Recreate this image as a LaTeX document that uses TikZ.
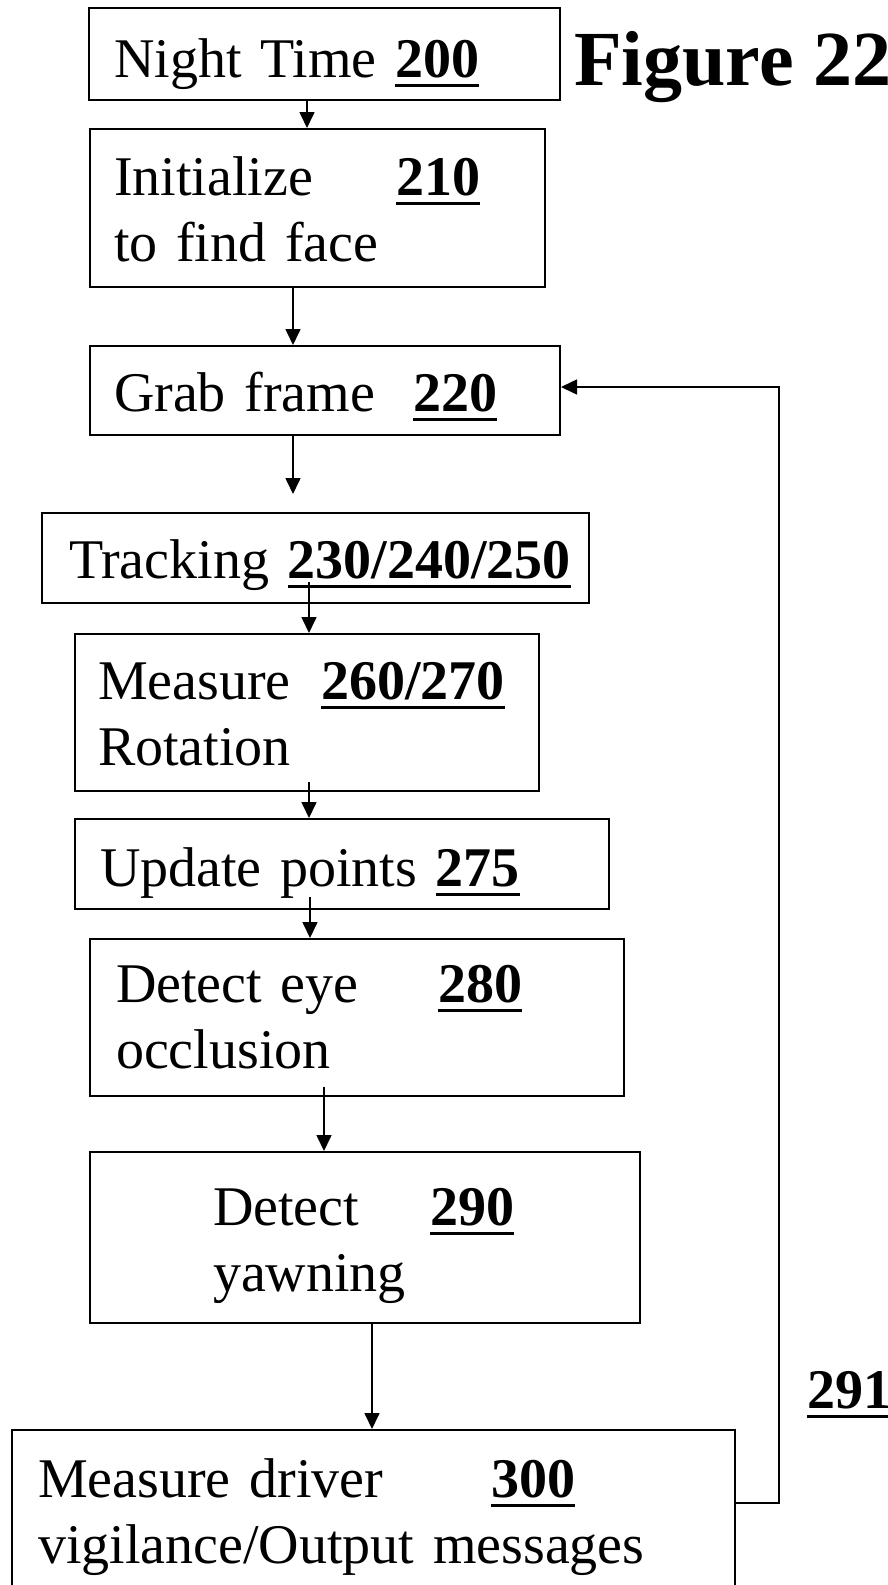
\documentclass[tikz,border=0pt]{standalone}
\usepackage{fontspec}
\setmainfont{Liberation Serif}
\usetikzlibrary{arrows.meta}

\newcommand{\refno}[1]{\setbox0\hbox{\textbf{#1}}\rlap{\rule[-10pt]{\wd0}{3pt}}\box0}

\begin{document}
\begin{tikzpicture}[x=1pt, y=-1pt, >={Triangle[length=16pt,width=15pt]}, line width=1.6pt,
	stage/.style n args={4}{draw, line width=2pt, anchor=north west, align=left,
		font=\fontsize{56}{66}\selectfont, inner ysep=0pt,
		inner xsep=#1pt, text width=#2pt, text height=#3pt, text depth=#4pt}]
	\useasboundingbox (0,0) rectangle (888,1585);

	% Boxes {n200 ... n300}
	\node [stage={25}{421}{69}{23}]  (n200) at (88,7)    {Night Time \refno{200}};
	\node [stage={24}{407}{66}{92}]  (n210) at (89,128)  {\makebox[282pt][l]{Initialize}\refno{210}\\ to find face};
	\node [stage={24}{422}{65}{24}]  (n220) at (89,345)  {\makebox[299pt][l]{Grab frame}\refno{220}};
	\node [stage={27}{493}{65}{25}]  (n230) at (41,512)  {\mbox{Tracking \refno{230/240/250}}};
	\node [stage={23}{418}{65}{92}]  (n260) at (74,633)  {\makebox[223pt][l]{Measure}\refno{260/270}\\ Rotation};
	\node [stage={25}{484}{67}{23}]  (n275) at (74,818)  {Update points \refno{275}};
	\node [stage={26}{482}{63}{94}]  (n280) at (89,938)  {\makebox[322pt][l]{Detect eye}\refno{280}\\ occlusion};
	\node [stage={123}{304}{73}{98}] (n290) at (89,1151) {\makebox[217pt][l]{Detect}\refno{290}\\ yawning};
	\node [stage={26}{671}{67}{104}] (n300) at (11,1429) {\makebox[453pt][l]{Measure driver}\refno{300}\\ vigilance/Output messages};

	% Labels
	\node [anchor=base west, font=\bfseries\fontsize{78}{86}\selectfont] (title) at (570,85) {Figure 22};
	\node [anchor=base west, font=\fontsize{56}{66}\selectfont] (l291) at (803,1408) {\refno{291}};

	% Paths
	\draw [->] (n200.south -| 307,0) -- (n210.north -| 307,0);
	\draw [->] (n210.south -| 293,0) -- (n220.north -| 293,0);
	\draw [->, shorten >=18pt] (n220.south -| 293,0) -- (n230.north -| 293,0);
	\draw [->] (n230.south -| 309,0) ++(0,-22) -- (n260.north -| 309,0);
	\draw [->] (n260.south -| 309,0) ++(0,-10) -- (n275.north -| 309,0);
	\draw [->] (n275.south -| 310,0) ++(0,-13) -- (n280.north -| 310,0);
	\draw [->] (n280.south -| 324,0) ++(0,-10) -- (n290.north -| 324,0);
	\draw [->] (n290.south -| 372,0) -- (n300.north -| 372,0);
	\draw [->] (n300.east |- 0,1503) -| (779,387) -- (n220.east |- 0,387);
\end{tikzpicture}
\end{document}
